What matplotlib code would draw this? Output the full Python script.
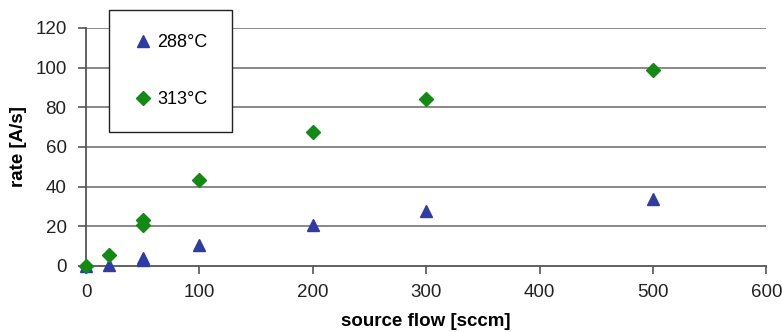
import matplotlib.pyplot as plt

# source flow [sccm] and deposition rate [A/s]
flow_288 = [0, 20, 50, 50, 100, 200, 300, 500]
rate_288 = [0, 0.5, 3, 4, 10.5, 20.7, 27.7, 33.7]
flow_313 = [0, 20, 50, 50, 100, 200, 300, 500]
rate_313 = [0, 5.5, 20.5, 23, 43.3, 67.6, 84.2, 98.8]
labels = ['288°C', '313°C']

plt.rcParams['font.family'] = ['Liberation Sans', 'DejaVu Sans']

fig = plt.figure(figsize=(7.82, 3.32), dpi=100)
ax = fig.add_axes([0.110, 0.199, 0.870, 0.717])

for y in range(20, 121, 20):
    ax.axhline(y, color='#7f7f7f', lw=1.3, zorder=0)

ax.plot(flow_288, rate_288, ls='none', marker='^', ms=9, color='#2e3ca4',
        label=labels[0], clip_on=False, zorder=3)
ax.plot(flow_313, rate_313, ls='none', marker='D', ms=7, color='#138a13',
        label=labels[1], clip_on=False, zorder=3)

ax.set_xlim(0, 600)
ax.set_ylim(0, 120)
ax.set_xticks(range(0, 601, 100))
ax.set_yticks(range(0, 121, 20))
ax.tick_params(labelsize=13.5, colors='#222222', length=6, width=1.2, color='#555555')
ax.tick_params(axis='x', pad=7)
ax.tick_params(axis='y', pad=8)
for s in ['top', 'right']:
    ax.spines[s].set_visible(False)
for s in ['left', 'bottom']:
    ax.spines[s].set_color('#555555')
    ax.spines[s].set_linewidth(1.3)

ax.set_xlabel('source flow [sccm]', fontsize=13.5, fontweight='bold', labelpad=9)
ax.set_ylabel('rate [A/s]', fontsize=13.5, fontweight='bold', labelpad=6)

leg = ax.legend(loc='upper left', bbox_to_anchor=(0.034, 1.076), fontsize=13,
                frameon=True, fancybox=False, edgecolor='#222222',
                handlelength=1.0, handletextpad=0.3, labelspacing=2.2,
                borderpad=1.35, borderaxespad=0, framealpha=1)
leg.get_frame().set_linewidth(1.0)

fig.savefig('out.png', dpi=100)
